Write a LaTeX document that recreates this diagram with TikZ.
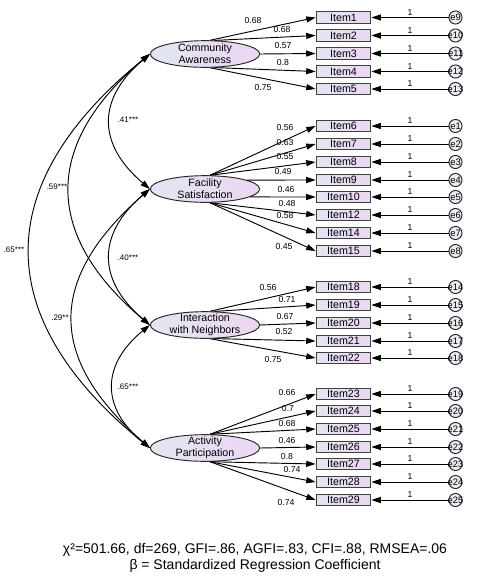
\documentclass[tikz,border=0pt]{standalone}
\usepackage{fontspec}
\setmainfont{Liberation Sans}
\usetikzlibrary{shapes.geometric,arrows.meta}
\definecolor{fillL}{RGB}{226,230,241}
\definecolor{fillR}{RGB}{236,214,242}

\tikzset{
  factor/.style={ellipse,draw=black!85,line width=0.7pt,left color=fillL,right color=fillR,
    minimum width=82pt,minimum height=20pt,inner sep=0pt},
  factxt/.style={align=center,font=\fontsize{8}{9}\selectfont,inner sep=0pt},
  itembox/.style={rectangle,draw=black!75,line width=0.9pt,left color=fillL,right color=fillR,
    minimum width=41pt,minimum height=8.5pt,inner sep=0pt,font=\fontsize{8}{8}\selectfont},
  errc/.style={circle,draw=black!85,line width=0.7pt,fill=fillL!70!white,minimum size=9.8pt,inner sep=0pt},
  errtxt/.style={font=\fontsize{7}{7}\selectfont,inner sep=0pt},
  coef/.style={font=\fontsize{6.5}{7}\selectfont,inner sep=0.5pt},
  corr/.style={font=\fontsize{6}{7}\selectfont,inner sep=0.5pt},
}

\begin{document}
\begin{tikzpicture}[x=0.75pt,y=-0.75pt,>={Stealth[length=7pt,width=4.5pt,inset=0pt]},line width=0.7pt]
\useasboundingbox (0,0) rectangle (484,582);

% latent factors
\node[factor] (ca) at (205,54) {};
\node[factxt] (catxt) at (ca) {Community\\Awareness};
\node[factor] (fs) at (205,189) {};
\node[factxt] (fstxt) at (fs) {Facility\\Satisfaction};
\node[factor] (iw) at (205,325) {};
\node[factxt] (iwtxt) at (iw) {Interaction\\with Neighbors};
\node[factor] (ap) at (205,448) {};
\node[factxt] (aptxt) at (ap) {Activity\\Participation};

% items, errors, loadings
\foreach \n/\y/\e/\v/\lx/\ly/\f/\a in {
  1/17.5/e9/0.68/253/21/ca/70, 2/35.5/e10/0.68/282/30/ca/55, 3/53.5/e11/0.57/283/46/ca/east,
  4/71.5/e12/0.8/283/63/ca/-55, 5/89/e13/0.75/263/88/ca/-70,
  6/126/e1/0.56/285/128/fs/70, 7/144/e2/0.63/285/143/fs/70, 8/162/e3/0.55/285/157/fs/70,
  9/180/e4/0.49/283/172/fs/12, 10/197/e5/0.46/286/190/fs/-10, 12/215/e6/0.48/287/204/fs/-70,
  14/233/e7/0.58/285/216/fs/-70, 15/251/e8/0.45/284/247/fs/-70,
  18/287/e14/0.56/268/288/iw/70, 19/305/e15/0.71/287/300/iw/55, 20/323/e16/0.67/285/317/iw/east,
  21/341/e17/0.52/284/332/iw/-55, 22/358/e18/0.75/273/360/iw/-70,
  23/394/e19/0.66/287/393/ap/70, 24/411/e20/0.7/288/409/ap/70, 25/429/e21/0.68/287/424/ap/70,
  26/447/e22/0.46/287/441/ap/east, 27/464/e23/0.8/287/457/ap/-70, 28/482/e24/0.74/292/470/ap/-70,
  29/500/e25/0.74/286/503/ap/-70}{
  \node[itembox] (i\n) at (343.5,\y) {Item\n};
  \node[errc] (c\n) at (455.5,\y) {};
  \node[errtxt] (t\n) at (c\n) {\e};
  \draw[->] (c\n) -- (i\n) node[coef,midway,above=1pt] (w\n) {1};
  \draw[->] (\f.\a) -- (i\n.west);
  \node[coef] (l\n) at (\lx,\ly) {\v};
}

% correlations
\draw[<->] (ca.west) .. controls +(-53,45) and +(-53,-45) .. (fs.west);
\draw[<->] (fs.west) .. controls +(-53,45) and +(-53,-45) .. (iw.west);
\draw[<->] (iw.west) .. controls +(-49,40) and +(-49,-40) .. (ap.west);
\draw[<->] (ca.west) .. controls +(-107,90) and +(-107,-90) .. (iw.west);
\draw[<->] (fs.west) .. controls +(-103,90) and +(-103,-90) .. (ap.west);
\draw[<->] (ca.west) .. controls +(-160,130) and +(-160,-130) .. (ap.west);
\node[corr] (r1) at (128,120) {.41***};
\node[corr] (r2) at (128,258) {.40***};
\node[corr] (r3) at (128,387) {.65***};
\node[corr] (r4) at (57,187) {.59***};
\node[corr] (r5) at (60,318) {.29**};
\node[corr] (r6) at (14,250) {.65***};

% fit indices
\node[font=\fontsize{10.5}{12}\selectfont] (fit) at (255,550) {χ²=501.66, df=269, GFI=.86, AGFI=.83, CFI=.88, RMSEA=.06};
\node[font=\fontsize{10.5}{12}\selectfont] (note) at (255,566) {β = Standardized Regression Coefficient};
\end{tikzpicture}
\end{document}
